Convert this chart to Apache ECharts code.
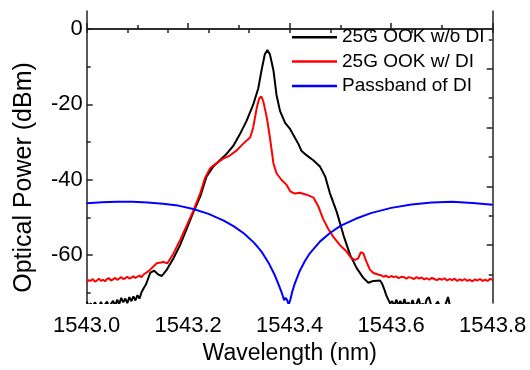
<!DOCTYPE html>
<html>
<head>
<meta charset="utf-8">
<script src="https://cdn.jsdelivr.net/npm/echarts@6/dist/echarts.min.js"></script>
<style>
  html, body { margin: 0; padding: 0; background: #fff; }
  #chart { width: 530px; height: 370px; }
</style>
</head>
<body>
<div id="chart"></div>
<script>
// black trace: 25G OOK w/o DI
const blackWl = [
  1543.000, 1543.004, 1543.008, 1543.012, 1543.016, 1543.020, 1543.024, 1543.028, 1543.032, 1543.036,
  1543.040, 1543.044, 1543.048, 1543.052, 1543.056, 1543.060, 1543.064, 1543.068, 1543.072, 1543.076,
  1543.080, 1543.084, 1543.088, 1543.092, 1543.096, 1543.100, 1543.104, 1543.108, 1543.112, 1543.117,
  1543.125, 1543.133, 1543.141, 1543.148, 1543.158, 1543.171, 1543.184, 1543.197, 1543.210, 1543.224,
  1543.236, 1543.249, 1543.262, 1543.276, 1543.289, 1543.302, 1543.315, 1543.328, 1543.338, 1543.345,
  1543.351, 1543.356, 1543.361, 1543.368, 1543.374, 1543.381, 1543.391, 1543.401, 1543.410, 1543.417,
  1543.423, 1543.433, 1543.447, 1543.460, 1543.470, 1543.479, 1543.493, 1543.506, 1543.519, 1543.532,
  1543.545, 1543.555, 1543.565, 1543.578, 1543.582, 1543.586, 1543.590, 1543.594, 1543.598, 1543.602,
  1543.606, 1543.610, 1543.614, 1543.618, 1543.622, 1543.626, 1543.630, 1543.634, 1543.638, 1543.642,
  1543.646, 1543.650, 1543.654, 1543.658, 1543.662, 1543.666, 1543.670, 1543.674, 1543.680, 1543.686,
  1543.692, 1543.696, 1543.700, 1543.706, 1543.712, 1543.716, 1543.720, 1543.760, 1543.800
];
const blackPow = [
  -72.4, -73.6, -72.9, -73.8, -72.6, -73.5, -73.9, -72.5, -73.7, -73.2,
  -72.4, -73.8, -73.0, -72.2, -73.6, -71.9, -73.1, -71.4, -72.6, -71.6,
  -72.8, -71.2, -72.3, -71.0, -72.1, -70.7, -71.6, -69.9, -68.9, -67.8,
  -64.8, -64.2, -65.2, -65.6, -63.9, -60.9, -57.4, -53.1, -48.7, -44.4,
  -39.2, -36.6, -34.9, -33.1, -31.0, -27.9, -24.4, -20.1, -15.8, -10.6,
  -6.7, -5.6, -6.7, -11.0, -17.5, -21.8, -24.9, -26.6, -28.8, -30.5,
  -32.3, -33.5, -34.9, -36.6, -39.2, -43.5, -48.7, -54.8, -60.0, -63.5,
  -66.1, -67.4, -66.9, -66.8, -67.6, -69.0, -70.6, -71.8, -72.9, -72.3,
  -73.6, -71.9, -73.4, -72.2, -73.8, -71.7, -73.5, -72.6, -73.9, -72.0,
  -73.6, -73.0, -71.6, -73.7, -72.9, -73.8, -71.8, -71.2, -73.9, -73.5,
  -72.4, -73.8, -73.9, -73.6, -71.2, -73.7, -73.9, -74.0, -74.0
];

// red trace: 25G OOK w/ DI
const redWl = [
  1543.000, 1543.004, 1543.008, 1543.012, 1543.016, 1543.020, 1543.024, 1543.028, 1543.032, 1543.036,
  1543.040, 1543.044, 1543.048, 1543.052, 1543.056, 1543.060, 1543.064, 1543.068, 1543.072, 1543.076,
  1543.080, 1543.084, 1543.088, 1543.092, 1543.096, 1543.100, 1543.104, 1543.108, 1543.112, 1543.122,
  1543.138, 1543.151, 1543.159, 1543.171, 1543.184, 1543.197, 1543.210, 1543.224, 1543.233, 1543.243,
  1543.256, 1543.269, 1543.282, 1543.295, 1543.308, 1543.322, 1543.328, 1543.335, 1543.340, 1543.344,
  1543.348, 1543.355, 1543.361, 1543.368, 1543.374, 1543.384, 1543.394, 1543.401, 1543.410, 1543.420,
  1543.433, 1543.447, 1543.456, 1543.466, 1543.476, 1543.486, 1543.499, 1543.512, 1543.522, 1543.529,
  1543.535, 1543.540, 1543.545, 1543.551, 1543.558, 1543.565, 1543.574, 1543.580, 1543.585, 1543.590,
  1543.595, 1543.600, 1543.605, 1543.610, 1543.615, 1543.620, 1543.625, 1543.630, 1543.635, 1543.640,
  1543.645, 1543.650, 1543.655, 1543.660, 1543.665, 1543.670, 1543.675, 1543.680, 1543.685, 1543.690,
  1543.695, 1543.700, 1543.705, 1543.710, 1543.715, 1543.720, 1543.725, 1543.730, 1543.735, 1543.740,
  1543.745, 1543.750, 1543.755, 1543.760, 1543.765, 1543.770, 1543.775, 1543.780, 1543.785, 1543.790,
  1543.795, 1543.800
];
const redPow = [
  -67.3, -66.7, -66.9, -66.4, -67.1, -66.8, -66.3, -66.9, -66.6, -67.0,
  -66.4, -66.2, -66.8, -66.5, -66.1, -66.6, -66.3, -65.9, -66.4, -66.2,
  -65.8, -66.3, -66.0, -65.7, -66.1, -65.8, -65.5, -65.9, -65.2, -64.3,
  -62.2, -61.9, -62.2, -59.6, -56.1, -52.2, -48.3, -43.5, -39.6, -37.0,
  -35.6, -34.4, -33.6, -32.3, -30.5, -28.8, -26.2, -21.0, -18.4, -17.9,
  -19.2, -23.6, -28.8, -35.7, -38.3, -40.1, -41.4, -43.1, -43.7, -43.5,
  -44.0, -44.8, -47.0, -50.5, -53.1, -55.2, -57.4, -59.1, -60.9, -61.3,
  -60.9, -59.3, -59.6, -61.7, -63.9, -64.8, -65.2, -65.4, -65.8, -65.5,
  -66.0, -65.6, -65.9, -65.7, -66.2, -65.8, -65.9, -66.3, -65.9, -66.1,
  -66.4, -65.9, -66.3, -66.0, -66.5, -66.2, -66.6, -66.1, -66.4, -66.7,
  -66.3, -66.6, -66.2, -66.8, -66.4, -66.7, -66.3, -66.9, -66.5, -66.8,
  -66.4, -66.9, -66.6, -67.0, -66.5, -66.8, -66.4, -66.9, -66.6, -66.9,
  -66.3, -66.7
];

// blue trace: Passband of DI
const blueWl = [
  1543.00, 1543.03, 1543.06, 1543.09, 1543.12, 1543.15, 1543.18, 1543.21, 1543.24, 1543.27,
  1543.29, 1543.31, 1543.33, 1543.345, 1543.36, 1543.37, 1543.378, 1543.385, 1543.389, 1543.392,
  1543.395, 1543.398, 1543.401, 1543.405, 1543.41, 1543.42, 1543.43, 1543.44, 1543.46, 1543.48,
  1543.50, 1543.53, 1543.56, 1543.60, 1543.64, 1543.68, 1543.72, 1543.76, 1543.80
];
const bluePow = [
  -46.3, -46.0, -45.9, -45.9, -46.1, -46.4, -46.9, -47.8, -49.1, -50.9,
  -52.4, -54.3, -56.8, -59.2, -62.5, -65.2, -67.8, -70.3, -72.0, -71.4,
  -72.0, -73.2, -72.0, -69.8, -67.6, -64.2, -61.6, -59.5, -56.4, -54.1,
  -52.3, -50.4, -48.9, -47.5, -46.6, -46.1, -45.9, -46.2, -46.7
];

const seriesNames = ['25G OOK w/o DI', '25G OOK w/ DI', 'Passband of DI'];
const seriesColors = ['#000000', '#ff0000', '#0000ff'];

// axis ticks
const xMin = 1543.0, xMax = 1543.8, xStep = 0.2;
const yMin = -72.8, yMax = 4.8;
const yMajor = [-60, -40, -20, 0];
const yMinor = [-70, -50, -30, -10];
// the mirrored right/top frame has its own tick spacing (pixel units)
const rightMajor = [59.3, 119.3, 179.3, 239.3];
const rightMinor = [29.3, 89.3, 149.3, 209.3, 269.3];

const FONT = '"Liberation Sans", Arial, sans-serif';
const AX = '#222';

const zip = (a, b) => a.map((v, i) => [v, b[i]]);

const chart = echarts.init(document.getElementById('chart'));
chart.setOption({
  animation: false,
  backgroundColor: '#fff',
  textStyle: { fontFamily: FONT },
  grid: { left: 86.7, right: 37.3, top: 11, bottom: 60.7 },
  legend: {
    orient: 'vertical',
    left: 292,
    top: 25,
    padding: 0,
    icon: 'rect',
    itemWidth: 45,
    itemHeight: 2.5,
    itemGap: 0,
    data: seriesNames,
    textStyle: { fontFamily: FONT, fontSize: 19, color: '#000', lineHeight: 24.4 }
  },
  graphic: [{
    type: 'text',
    x: 24,
    y: 177.5,
    rotation: Math.PI / 2,
    style: {
      text: 'Optical Power (dBm)',
      font: '25px ' + FONT,
      fill: '#000',
      textAlign: 'center',
      textVerticalAlign: 'middle'
    }
  }],
  xAxis: [{
    type: 'value',
    position: 'bottom',
    min: xMin,
    max: xMax,
    interval: xStep,
    axisLine: { lineStyle: { color: AX, width: 1.5 } },
    axisTick: { inside: true, length: 6, lineStyle: { color: AX, width: 1.5 } },
    minorTick: { show: true, splitNumber: 2, length: 4, lineStyle: { color: AX, width: 1.5 } },
    splitLine: { show: false },
    axisLabel: {
      fontSize: 22, color: '#000', margin: 12, fontFamily: FONT,
      formatter: v => v.toFixed(1)
    },
    name: 'Wavelength (nm)',
    nameLocation: 'middle',
    nameGap: 38,
    nameTextStyle: { fontSize: 23, color: '#000', fontFamily: FONT }
  }, {
    type: 'value',
    position: 'top',
    min: 0,
    max: 10,
    interval: 1,
    axisLine: { lineStyle: { color: AX, width: 1.5 } },
    axisTick: { inside: true, length: 4, lineStyle: { color: AX, width: 1.5 } },
    axisLabel: { show: false },
    splitLine: { show: false }
  }],
  yAxis: [{
    type: 'value',
    position: 'left',
    min: yMin,
    max: yMax,
    axisLine: { show: true, lineStyle: { color: AX, width: 1.5 } },
    axisTick: { show: true, inside: true, length: 6, customValues: yMajor, lineStyle: { color: AX, width: 1.5 } },
    axisLabel: { fontSize: 22, color: '#000', margin: 4, fontFamily: FONT, customValues: yMajor },
    splitLine: { show: false }
  }, {
    type: 'value',
    position: 'left',
    min: yMin,
    max: yMax,
    axisLine: { show: false },
    axisTick: { show: true, inside: true, length: 4, customValues: yMinor, lineStyle: { color: AX, width: 1.5 } },
    axisLabel: { show: false },
    splitLine: { show: false }
  }, {
    type: 'value',
    position: 'right',
    min: 0,
    max: 298.3,
    axisLine: { show: true, lineStyle: { color: AX, width: 1.5 } },
    axisTick: { show: true, inside: true, length: 6, customValues: rightMajor, lineStyle: { color: AX, width: 1.5 } },
    axisLabel: { show: false },
    splitLine: { show: false }
  }, {
    type: 'value',
    position: 'right',
    min: 0,
    max: 298.3,
    axisLine: { show: false },
    axisTick: { show: true, inside: true, length: 4, customValues: rightMinor, lineStyle: { color: AX, width: 1.5 } },
    axisLabel: { show: false },
    splitLine: { show: false }
  }],
  series: [
    { name: seriesNames[0], data: zip(blackWl, blackPow) },
    { name: seriesNames[1], data: zip(redWl, redPow) },
    { name: seriesNames[2], data: zip(blueWl, bluePow) }
  ].map((obj, i) => ({
    ...obj,
    type: 'line',
    xAxisIndex: 0,
    yAxisIndex: 0,
    symbol: 'none',
    clip: true,
    color: seriesColors[i],
    lineStyle: { color: seriesColors[i], width: 2 }
  }))
});
</script>
</body>
</html>
